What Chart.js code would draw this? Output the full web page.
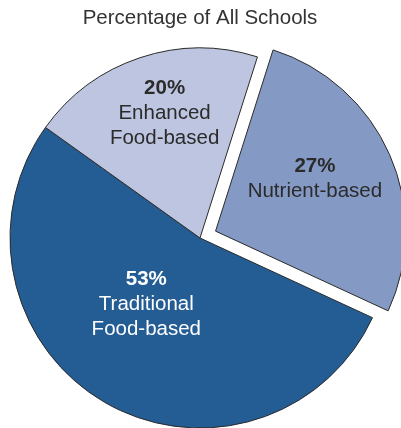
<!DOCTYPE html>
<html>
<head>
<meta charset="utf-8">
<script src="https://cdn.jsdelivr.net/npm/chart.js@4"></script>
<style>
    html, body { margin: 0; padding: 0; background: #fff; overflow: hidden; }
    .m-chart { position: relative; width: 401px; height: 428px; }
</style>
</head>
<body>
<div class="m-chart"><canvas id="myChart"></canvas></div>
<script>
const categories = ['Nutrient-based', 'Traditional Food-based', 'Enhanced Food-based'];
const labelLines = [['Nutrient-based'], ['Traditional', 'Food-based'], ['Enhanced', 'Food-based']];
const percentages = [27, 53, 20];

const sliceColors = ['#8499c3', '#245c94', '#bdc5e0'];
const textColors = ['#2b2b2b', '#ffffff', '#2b2b2b'];
// pulled-out distance in px (chart.js v4 draws offset / 4)
const sliceOffsets = [17, 0, 0];
// label placement: fraction of radius and small angle nudge (deg)
const labelRadius = [0.59, 0.45, 0.68];
const labelNudge = [-3.8, 8.7, 2.5];

const FONT = '"Liberation Sans", Arial, sans-serif';

const sliceLabels = {
    id: 'sliceLabels',
    afterDatasetsDraw(chart) {
        const ctx = chart.ctx;
        const meta = chart.getDatasetMeta(0);
        meta.data.forEach((arc, i) => {
            const p = arc.getProps(['x', 'y', 'startAngle', 'endAngle', 'outerRadius']);
            const mid = (p.startAngle + p.endAngle) / 2;
            const off = sliceOffsets[i];
            const ox = p.x + Math.cos(mid) * off;
            const oy = p.y + Math.sin(mid) * off;
            const a = mid + labelNudge[i] * Math.PI / 180;
            const r = p.outerRadius * labelRadius[i];
            const cx = ox + Math.cos(a) * r;
            const cy = oy + Math.sin(a) * r;
            const lines = [percentages[i] + '%'].concat(labelLines[i]);
            const lh = 25;
            let y = cy - (lines.length - 1) * lh / 2;
            ctx.save();
            ctx.textAlign = 'center';
            ctx.textBaseline = 'middle';
            ctx.fillStyle = textColors[i];
            lines.forEach((t, k) => {
                ctx.font = (k === 0 ? 'bold ' : '') + '20.5px ' + FONT;
                ctx.fillText(t, cx, y);
                y += lh;
            });
            ctx.restore();
        });
    }
};

const ctx = document.getElementById('myChart').getContext('2d');
const myChart = new Chart(ctx, {
    type: 'pie',
    data: {
        labels: categories,
        datasets: [{
            data: percentages,
            backgroundColor: sliceColors,
            borderColor: '#2a2a2a',
            borderWidth: 1,
            offset: sliceOffsets.map(o => o * 4)
        }]
    },
    options: {
        responsive: true,
        maintainAspectRatio: false,
        animation: false,
        events: [],
        rotation: 17.6,
        radius: 190,
        layout: { padding: { top: 0, bottom: 0, left: 0, right: 1 } },
        plugins: {
            legend: { display: false },
            tooltip: { enabled: false },
            title: {
                display: true,
                text: 'Percentage of All Schools',
                color: '#333333',
                font: { family: FONT, size: 20.5, weight: 'normal', lineHeight: 1.2 },
                padding: { top: 6.5, bottom: 16.9 }
            }
        }
    },
    plugins: [sliceLabels]
});
</script>
</body>
</html>
